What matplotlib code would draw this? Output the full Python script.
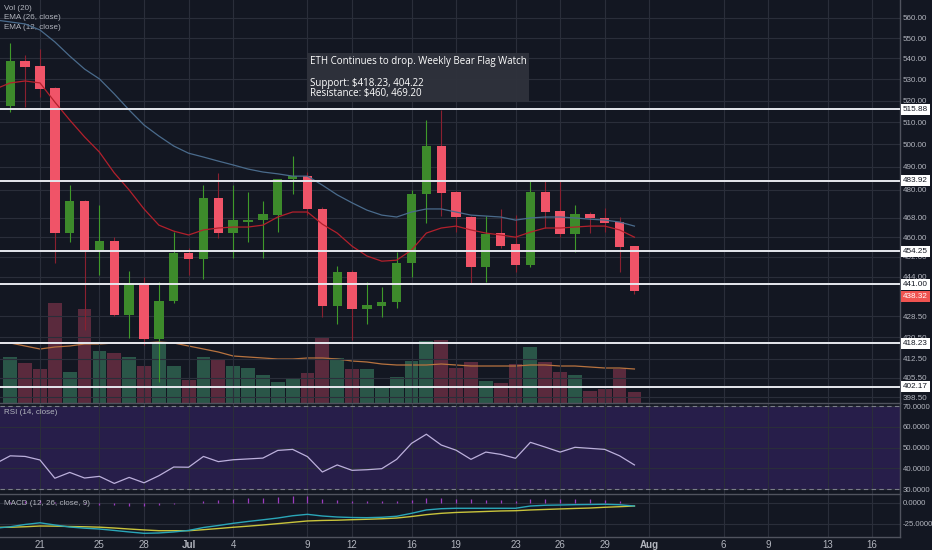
import numpy as np
import matplotlib
matplotlib.use("Agg")
import matplotlib.pyplot as plt
import matplotlib.dates as mdates
from matplotlib.ticker import NullLocator

plt.rcParams['font.family'] = ['Liberation Sans', 'DejaVu Sans']

BG = '#131722'
GRID = '#2a2e3a'
TXT = '#b2b5be'
SEP = '#50535e'

# daily candles 19 Jun - 31 Jul 2018
dates = np.arange(np.datetime64('2018-06-19'), np.datetime64('2018-08-01'))
opens = [517.5, 538.8, 536.4, 525.9, 461.7, 475.2, 454.7, 458.4, 428.9, 441.4,
         419.8, 434.4, 453.5, 451.0, 476.4, 461.7, 466.3, 467.1, 469.2, 484.6,
         485.9, 471.8, 432.4, 445.8, 431.3, 432.4, 434.0, 449.4, 478.2, 499.2,
         479.0, 468.4, 447.8, 461.7, 457.2, 448.6, 479.0, 470.9, 461.3, 469.6,
         468.0, 466.3, 456.3]
highs = [547.6, 541.7, 544.6, 526.5, 482.0, 475.6, 473.5, 460.0, 446.2, 443.8,
         441.8, 462.1, 455.5, 482.0, 487.3, 482.0, 479.0, 475.2, 484.8, 494.8,
         487.7, 472.5, 448.2, 446.5, 441.8, 439.9, 453.9, 479.9, 511.0, 515.5,
         479.5, 468.8, 468.8, 471.8, 469.2, 483.8, 483.8, 483.8, 473.5, 470.5,
         472.2, 468.4, 456.3]
lows = [514.7, 517.0, 521.7, 449.4, 458.0, 423.2, 444.6, 428.5, 420.2, 417.5,
        403.9, 433.5, 444.6, 443.0, 459.6, 451.5, 458.0, 451.5, 462.1, 478.0,
        469.2, 428.2, 425.5, 419.4, 425.5, 428.2, 431.6, 443.8, 465.9, 468.8,
        462.1, 441.4, 441.8, 455.5, 445.8, 447.8, 463.8, 460.0, 453.9, 461.7,
        462.1, 445.8, 437.1]
closes = [538.8, 535.9, 525.4, 461.7, 475.2, 454.7, 458.4, 428.9, 441.4, 419.8,
          434.4, 453.5, 451.0, 476.4, 461.7, 467.1, 467.1, 469.6, 484.6, 485.9,
          471.8, 432.4, 445.8, 431.3, 432.8, 434.0, 449.4, 478.2, 499.2, 478.6,
          468.4, 447.8, 461.3, 456.3, 448.6, 479.0, 470.5, 461.3, 469.6, 468.0,
          465.9, 455.9, 438.32]
volume = [460, 400, 340, 1000, 310, 940, 520, 500, 460, 370,
          600, 370, 230, 460, 440, 370, 350, 280, 210, 250,
          300, 660, 450, 340, 340, 160, 260, 420, 620, 630,
          350, 410, 220, 200, 390, 560, 410, 310, 280, 120,
          140, 340, 110]

# indicator lines, 18 Jun - 31 Jul 2018
ind_dates = np.arange(np.datetime64('2018-06-18'), np.datetime64('2018-08-01'))
vol_ma = [600, 600, 570, 540, 560, 570, 590, 590, 600, 600, 600, 610, 600,
          570, 540, 510, 470, 460, 450, 440, 440, 450, 450, 440, 420, 410,
          390, 380, 380, 380, 390, 380, 370, 370, 370, 370, 380, 380, 370,
          370, 360, 350, 350, 340]
ema12 = [525.4, 528.3, 529.2, 528.3, 519.3, 511.0, 503.3, 496.5, 487.3, 479.9,
         471.8, 465.0, 462.5, 460.9, 463.0, 463.8, 464.2, 464.2, 465.0, 468.4,
         470.5, 470.5, 465.4, 461.7, 456.3, 452.3, 450.2, 450.6, 454.7, 461.7,
         463.8, 464.6, 463.0, 461.7, 460.9, 460.0, 462.1, 463.8, 463.8, 464.2,
         464.6, 464.6, 463.0, 460.0]
ema26 = [559.0, 558.0, 557.0, 554.0, 548.1, 541.2, 534.9, 530.2, 523.1, 515.6,
         508.7, 503.7, 499.2, 496.0, 494.3, 492.5, 490.8, 489.0, 487.7, 486.9,
         485.9, 485.9, 482.0, 477.8, 474.4, 471.3, 469.2, 468.4, 470.5, 471.8,
         471.8, 470.5, 469.2, 468.8, 468.4, 467.1, 468.0, 468.4, 468.4, 468.0,
         467.5, 467.1, 466.3, 464.6]
rsi = [42.2, 46.0, 45.7, 44.0, 35.2, 38.0, 35.3, 36.1, 32.7, 35.6, 33.0,
       36.4, 40.6, 40.5, 45.7, 43.2, 44.1, 44.5, 44.9, 48.6, 49.1,
       45.6, 38.2, 41.6, 39.0, 39.3, 39.8, 44.3, 52.0, 56.4, 51.2,
       48.7, 44.3, 47.8, 46.7, 44.8, 52.5, 50.2, 47.8, 50.1, 49.6,
       49.1, 46.0, 41.6]
macd = [-30.0, -28.3, -25.6, -23.6, -26.2, -28.6, -30.0, -31.0, -32.7, -34.5,
        -36.1, -35.7, -34.5, -32.7, -29.2, -26.8, -24.2, -22.0, -20.0, -17.9,
        -15.2, -13.5, -15.5, -16.7, -17.3, -17.5, -17.0, -15.8, -12.3, -8.3,
        -6.8, -6.3, -6.3, -6.3, -6.3, -6.3, -3.6, -2.7, -2.4, -2.0,
        -1.8, -1.5, -2.1, -3.6]
signal = [-29.0, -28.9, -28.3, -27.4, -27.6, -28.0, -28.3, -28.8, -29.8, -31.0,
          -32.1, -33.0, -33.0, -33.0, -31.8, -30.4, -28.9, -27.6, -26.2, -24.6,
          -23.0, -21.4, -20.8, -20.5, -19.9, -19.4, -18.8, -17.9, -16.1, -13.9,
          -12.3, -11.3, -10.7, -10.1, -9.5, -9.2, -8.3, -7.7, -7.1, -6.5,
          -6.0, -5.1, -4.4, -3.6]

levels = [515.88, 483.92, 454.25, 441.00, 418.23, 402.17]
price_ticks = [398.5, 405.5, 412.5, 420.5, 428.5, 444, 452, 460, 468, 480,
               490, 500, 510, 520, 530, 540, 550, 560]
rsi_ticks = [70, 60, 50, 40, 30]
macd_ticks = [0, -25]
date_ticks = ['2018-06-21', '2018-06-25', '2018-06-28', '2018-07-01', '2018-07-04',
              '2018-07-09', '2018-07-12', '2018-07-16', '2018-07-19', '2018-07-23',
              '2018-07-26', '2018-07-29', '2018-08-01', '2018-08-06', '2018-08-09',
              '2018-08-13', '2018-08-16']
date_labels = ['21', '25', '28', 'Jul', '4', '9', '12', '16', '19', '23', '26', '29',
               'Aug', '6', '9', '13', '16']
note = ("ETH Continues to drop. Weekly Bear Flag Watch\n\n"
        "Support: $418.23, 404.22\nResistance: $460, 469.20")

opens, highs, lows, closes = map(np.array, (opens, highs, lows, closes))
up = closes >= opens

fig = plt.figure(figsize=(9.32, 5.5), dpi=100, facecolor=BG)
W, H = 932, 550
def rect(top, bottom, right=900):
    return [0, (H - bottom) / H, right / W, (bottom - top) / H]

ax_vol = fig.add_axes(rect(0, 403), facecolor=BG, zorder=0)
ax = fig.add_axes(rect(0, 403), sharex=ax_vol, zorder=1)
ax.set_facecolor('none')
ax_rsi = fig.add_axes(rect(403, 494), sharex=ax_vol, facecolor=BG)
ax_macd = fig.add_axes(rect(494, 537), sharex=ax_vol, facecolor=BG)

x0 = mdates.date2num(np.datetime64('2018-06-21'))
ax_vol.set_xlim(x0 - 2.69, x0 + 57.87)

# volume
ax_vol.bar(dates, volume, width=0.93,
           color=np.where(up, '#2a5648', '#5a2a3d'), linewidth=0)
ax_vol.plot(ind_dates, vol_ma, color='#b8733f', lw=0.9)
ax_vol.set_ylim(0, 4030)
ax_vol.tick_params(left=False, labelleft=False, bottom=False, labelbottom=False)
for s in ax_vol.spines.values():
    s.set_visible(False)

# candles
ax.set_yscale('log')
ax.vlines(dates[up], lows[up], highs[up], color='#3f9a2a', lw=0.8, zorder=2)
ax.vlines(dates[~up], lows[~up], highs[~up], color='#8a2030', lw=0.8, zorder=2)
body_lo = np.minimum(opens, closes)
body_h = np.maximum(np.abs(closes - opens), 0.4)
ax.bar(dates, body_h, bottom=body_lo, width=0.63,
       color=np.where(up, '#3d8a2b', '#f05468'), linewidth=0, zorder=3)
ax.plot(ind_dates, ema26, color='#4a6b8c', lw=0.9, zorder=4)
ax.plot(ind_dates, ema12, color='#b3202c', lw=0.9, zorder=4)
for lv in levels:
    ax.axhline(lv, color='#e6e8ee', lw=1.4, zorder=5)

ax.set_ylim(396.4, 569.1)
ax.set_yticks(price_ticks)
ax.set_yticklabels([f'{t:.2f}' for t in price_ticks])
ax.yaxis.set_minor_locator(NullLocator())

for lv in levels:
    ax.annotate(f'{lv:.2f}', xy=(1, lv), xycoords=ax.get_yaxis_transform(),
                xytext=(2.0, 0), textcoords='offset points', ha='left', va='center',
                fontsize=5.9, color='#131722', annotation_clip=False, zorder=10,
                bbox=dict(boxstyle='square,pad=0.25', fc='#ffffff', ec='none'))
# last price tag, nudged below the 441.00 tag as the reference does
ax.annotate(f'{closes[-1]:.2f}', xy=(1, closes[-1]), xycoords=ax.get_yaxis_transform(),
            xytext=(2.0, -3.8), textcoords='offset points', ha='left', va='center',
            fontsize=5.9, color='#ffffff', annotation_clip=False, zorder=10,
            bbox=dict(boxstyle='square,pad=0.25', fc='#ef5350', ec='none'))

ax.text(x0 + 18.15, 541.0, note, ha='left', va='top', fontsize=7.05,
        color='#ffffff', linespacing=0.95, parse_math=False, zorder=9,
        family=['Open Sans', 'DejaVu Sans'],
        bbox=dict(boxstyle='square,pad=0.3', fc='#2f323c', ec='none', alpha=0.95))

for y, lab in [(0.980, 'Vol (20)'), (0.956, 'EMA (26, close)'), (0.933, 'EMA (12, close)')]:
    ax.text(0.004, y, lab, transform=ax.transAxes, fontsize=5.8, color=TXT, va='center')

# RSI
ax_rsi.axhspan(30, 70, color='#271e4a', lw=0, zorder=0)
ax_rsi.plot(ind_dates, rsi, color='#bcb0dc', lw=0.9, zorder=3)
for lv in (70, 30):
    ax_rsi.axhline(lv, color='#7a7d88', lw=0.8, ls=(0, (4, 3)), zorder=2)
ax_rsi.set_ylim(27.6, 71.45)
ax_rsi.set_yticks(rsi_ticks)
ax_rsi.set_yticklabels([f'{t:.4f}' for t in rsi_ticks])
ax_rsi.text(0.004, 0.90, 'RSI (14, close)', transform=ax_rsi.transAxes,
            fontsize=5.8, color=TXT, va='center')

# MACD
hist = np.array(macd) - np.array(signal)
ax_macd.vlines(ind_dates, 0, hist, color='#9c3cc0', lw=0.9, zorder=2)
ax_macd.plot(ind_dates, signal, color='#c9c43c', lw=1.0, zorder=3)
ax_macd.plot(ind_dates, macd, color='#2aa6b8', lw=1.0, zorder=4)
ax_macd.set_ylim(-40.5, 10.7)
ax_macd.set_yticks(macd_ticks)
ax_macd.set_yticklabels([f'{t:.4f}' for t in macd_ticks])
ax_macd.text(0.004, 0.79, 'MACD (12, 26, close, 9)', transform=ax_macd.transAxes,
             fontsize=5.8, color=TXT, va='center')

ax_macd.set_xticks(mdates.date2num(np.array(date_ticks, dtype='datetime64[D]')))
ax_macd.set_xticklabels(date_labels)
for t in ax_macd.get_xticklabels():
    if t.get_text() in ('Jul', 'Aug'):
        t.set_fontweight('bold')

for a in (ax, ax_rsi, ax_macd):
    a.yaxis.tick_right()
    a.tick_params(axis='y', length=0, pad=2.2, labelsize=5.8, labelcolor=TXT)
    a.tick_params(axis='x', length=0, pad=2.0, labelsize=7, labelcolor=TXT)
    a.grid(True, color=GRID, lw=0.8)
    a.set_axisbelow(True)
    for name, s in a.spines.items():
        s.set_visible(name in ('right', 'top', 'bottom') and a is not ax or name == 'right')
        s.set_color(SEP)
        s.set_linewidth(1.0)
for a in (ax_rsi, ax_macd):
    a.tick_params(axis='y', labelsize=5.6, pad=2.0)
for a in (ax, ax_rsi):
    a.tick_params(axis='x', labelbottom=False)
ax_rsi.spines['bottom'].set_visible(False)

fig.savefig('out.png', dpi=100, facecolor=BG)
